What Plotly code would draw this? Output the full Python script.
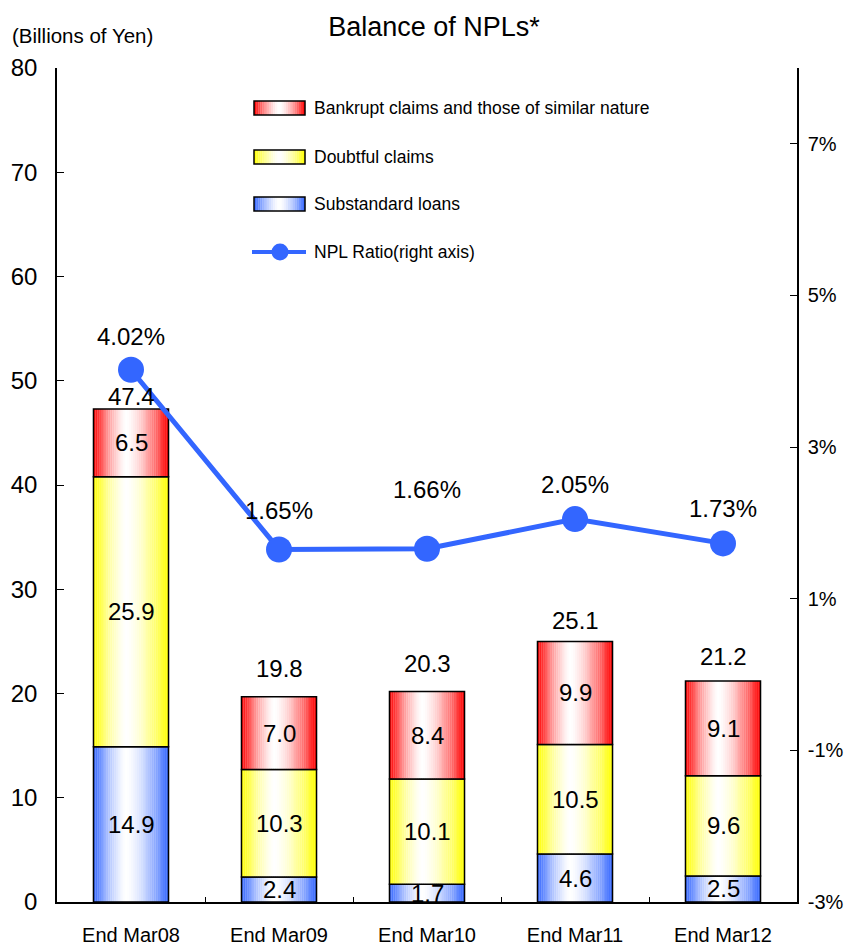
import plotly.graph_objects as go

# ---- data -------------------------------------------------------------
categories = ["End Mar08", "End Mar09", "End Mar10", "End Mar11", "End Mar12"]
substandard = [14.9, 2.4, 1.7, 4.6, 2.5]
doubtful = [25.9, 10.3, 10.1, 10.5, 9.6]
bankrupt = [6.5, 7.0, 8.4, 9.9, 9.1]
totals = [47.4, 19.8, 20.3, 25.1, 21.2]
npl_ratio = [4.02, 1.65, 1.66, 2.05, 1.73]

left_ticks = [0, 10, 20, 30, 40, 50, 60, 70, 80]
right_ticks = [-3, -1, 1, 3, 5, 7]
right_tick_text = ["-3%", "-1%", "1%", "3%", "5%", "7%"]

# label offsets (px) above the bar tops / ratio points
total_shift = [11, 27, 27, 20, 24]
ratio_shift = [33, 39, 59, 35, 35]

# ---- styling ----------------------------------------------------------
W, H = 844, 949
L, R, T, B = 57, 47, 68, 47
PW, PH = W - L - R, H - T - B
FONT = "Liberation Sans, Arial"
BLUE = (51, 102, 255)
YELLOW = (255, 255, 0)
RED = (255, 0, 0)
LINE_BLUE = "rgb(51,102,255)"
BAR_W = 0.507
STRIPS = 40


def px(xp):
    return (xp - L) / PW


def py(yp):
    return (H - B - yp) / PH


def shade(rgb, u, peak=0.44):
    """Colour across a bar: saturated at both edges, white near the middle."""
    d = (peak - u) / peak if u < peak else (u - peak) / (1 - peak)
    white = 1 - min(1.0, d) ** 1.5
    r, g, b = (round(c + (255 - c) * white) for c in rgb)
    return f"rgb({r},{g},{b})"


fig = go.Figure()

series = [
    ("Substandard loans", substandard, BLUE),
    ("Doubtful claims", doubtful, YELLOW),
    ("Bankrupt claims and those of similar nature", bankrupt, RED),
]

cum = [0.0] * len(categories)
annotations = []
for name, vals, rgb in series:
    base = list(cum)
    # horizontal gradient built from narrow strips
    for k in range(STRIPS):
        u = (k + 0.5) / STRIPS
        fig.add_bar(
            x=categories, y=vals, base=base,
            width=BAR_W / STRIPS * 1.1,
            offset=-BAR_W / 2 + k * BAR_W / STRIPS,
            marker=dict(color=shade(rgb, u), line_width=0),
            showlegend=False, hoverinfo="skip",
        )
    # outline of each segment
    fig.add_bar(
        x=categories, y=vals, base=base, width=BAR_W, offset=-BAR_W / 2,
        marker=dict(color="rgba(0,0,0,0)", line=dict(color="black", width=1.5)),
        name=name, showlegend=False,
    )
    for c, v, b0 in zip(categories, vals, base):
        annotations.append(dict(
            x=c, y=b0 + v / 2, xref="x", yref="y", text=f"{v:.1f}",
            showarrow=False, font=dict(family=FONT, size=24, color="black"),
        ))
    cum = [a + v for a, v in zip(cum, vals)]

# totals above the bars
for c, t, s in zip(categories, totals, total_shift):
    annotations.append(dict(
        x=c, y=t, xref="x", yref="y", text=f"{t:.1f}", yshift=s,
        showarrow=False, font=dict(family=FONT, size=24, color="black"),
    ))

# NPL ratio line on the right axis
fig.add_trace(go.Scatter(
    x=categories, y=npl_ratio, yaxis="y2", mode="lines+markers",
    line=dict(color=LINE_BLUE, width=5),
    marker=dict(size=26, color=LINE_BLUE),
    name="NPL Ratio(right axis)", showlegend=False,
))
for c, r, s in zip(categories, npl_ratio, ratio_shift):
    annotations.append(dict(
        x=c, y=r, xref="x", yref="y2", text=f"{r:.2f}%", yshift=s,
        showarrow=False, font=dict(family=FONT, size=24, color="black"),
    ))

# ---- hand-drawn legend -----------------------------------------------
shapes = []
legend_rows = [
    ("Bankrupt claims and those of similar nature", RED, 108),
    ("Doubtful claims", YELLOW, 157),
    ("Substandard loans", BLUE, 204),
]
bx0, bx1, bh = 254, 305, 14
n_leg = 24
for text, rgb, yc in legend_rows:
    for k in range(n_leg):
        u = (k + 0.5) / n_leg
        x0 = bx0 + (bx1 - bx0) * k / n_leg
        x1 = bx0 + (bx1 - bx0) * (k + 1.1) / n_leg
        shapes.append(dict(
            type="rect", xref="paper", yref="paper",
            x0=px(x0), x1=px(min(x1, bx1)), y0=py(yc + bh / 2), y1=py(yc - bh / 2),
            fillcolor=shade(rgb, u, peak=0.5), line_width=0, layer="above",
        ))
    shapes.append(dict(
        type="rect", xref="paper", yref="paper",
        x0=px(bx0), x1=px(bx1), y0=py(yc + bh / 2), y1=py(yc - bh / 2),
        line=dict(color="black", width=1.5), layer="above",
    ))
    annotations.append(dict(
        x=px(312), y=py(yc), xref="paper", yref="paper", xanchor="left",
        yanchor="middle", text=text, showarrow=False,
        font=dict(family=FONT, size=17.5, color="black"),
    ))

ly = 252
shapes.append(dict(
    type="line", xref="paper", yref="paper", x0=px(252), x1=px(306),
    y0=py(ly), y1=py(ly), line=dict(color=LINE_BLUE, width=4), layer="above",
))
shapes.append(dict(
    type="circle", xref="paper", yref="paper", xsizemode="pixel",
    ysizemode="pixel", xanchor=px(280), yanchor=py(ly),
    x0=-8.5, x1=8.5, y0=-8.5, y1=8.5,
    fillcolor=LINE_BLUE, line_width=0, layer="above",
))
annotations.append(dict(
    x=px(312), y=py(ly), xref="paper", yref="paper", xanchor="left",
    yanchor="middle", text="NPL Ratio(right axis)", showarrow=False,
    font=dict(family=FONT, size=17.5, color="black"),
))

# unit label
annotations.append(dict(
    x=px(10), y=py(35), xref="paper", yref="paper", xanchor="left",
    yanchor="middle", text="(Billions of Yen)", showarrow=False,
    font=dict(family=FONT, size=20.5, color="black"),
))

fig.update_layout(
    width=W, height=H,
    margin=dict(l=L, r=R, t=T, b=B, autoexpand=False),
    paper_bgcolor="white", plot_bgcolor="white",
    barmode="overlay",
    showlegend=False,
    title=dict(
        text="Balance of NPLs*", x=434 / W, xanchor="center",
        y=1 - 27 / H, yanchor="middle",
        font=dict(family=FONT, size=27, color="black"),
    ),
    xaxis=dict(
        type="category", categoryorder="array", categoryarray=categories,
        range=[-0.5, len(categories) - 0.5],
        showline=True, linecolor="black", linewidth=1.5,
        ticks="inside", ticklen=5, tickcolor="black", tickwidth=1,
        tickson="boundaries", showgrid=False, zeroline=False,
        ticklabelstandoff=14,
        tickfont=dict(family=FONT, size=20, color="black"),
        automargin=False,
    ),
    yaxis=dict(
        range=[0, 80], tickvals=left_ticks, showgrid=False, zeroline=False,
        showline=True, linecolor="black", linewidth=1.5,
        ticks="inside", ticklen=7, tickcolor="black", tickwidth=1,
        ticklabelstandoff=13,
        tickfont=dict(family=FONT, size=24, color="black"),
        automargin=False,
    ),
    yaxis2=dict(
        overlaying="y", side="right", range=[-3, 8],
        tickvals=right_ticks, ticktext=right_tick_text,
        showgrid=False, zeroline=False,
        showline=True, linecolor="black", linewidth=1.5,
        ticks="inside", ticklen=7, tickcolor="black", tickwidth=1,
        ticklabelstandoff=5,
        tickfont=dict(family=FONT, size=20, color="black"),
        automargin=False,
    ),
    shapes=shapes,
    annotations=annotations,
)

fig.write_html("out.html")
